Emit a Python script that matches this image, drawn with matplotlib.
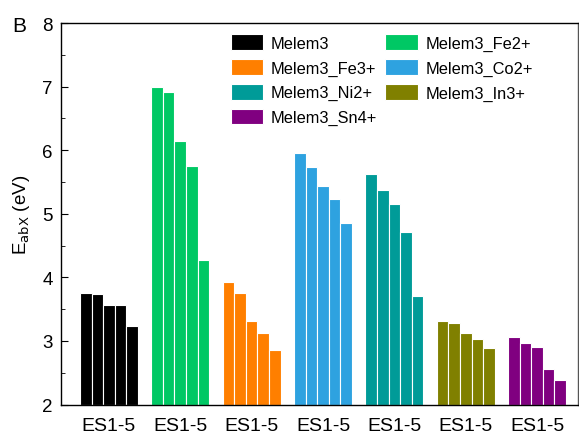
import matplotlib
matplotlib.use("Agg")
import matplotlib.pyplot as plt
import numpy as np

plt.rcParams['font.family'] = ['Liberation Sans', 'DejaVu Sans']

series_names = ["Melem3", "Melem3_Fe2+", "Melem3_Fe3+", "Melem3_Co2+",
                "Melem3_Ni2+", "Melem3_In3+", "Melem3_Sn4+"]
colors = ["#000000", "#00C864", "#FF7F00", "#2EA2E0",
          "#009B98", "#808000", "#800080"]
melem3 = [3.76, 3.74, 3.57, 3.57, 3.23]
fe2 = [7.00, 6.91, 6.15, 5.75, 4.27]
fe3 = [3.93, 3.76, 3.32, 3.12, 2.86]
co2 = [5.95, 5.74, 5.44, 5.23, 4.85]
ni2 = [5.63, 5.37, 5.15, 4.71, 3.71]
in3 = [3.32, 3.28, 3.13, 3.03, 2.89]
sn4 = [3.06, 2.97, 2.90, 2.56, 2.39]
values = [melem3, fe2, fe3, co2, ni2, in3, sn4]
xticklabels = ["ES1-5"] * 7

fig = plt.figure(figsize=(5.79, 4.39), dpi=100)
ax = fig.add_axes([0.1054, 0.0763, 0.8926, 0.869])

w = 0.81 / 5
handles = []
for i, (vals, c, name) in enumerate(zip(values, colors, series_names)):
    xs = i + (np.arange(5) - 2) * w
    b = ax.bar(xs, np.array(vals) - 2, width=w, bottom=2, color=c,
               edgecolor="white", linewidth=0.8, label=name)
    handles.append(b)

ax.set_xlim(-0.67, 6.57)
ax.set_ylim(2, 8)
ax.set_xticks(range(7))
ax.set_xticklabels(xticklabels, fontsize=14)
ax.tick_params(axis='x', length=0, pad=9)
ax.set_yticks(range(2, 9))
ax.set_yticks(np.arange(2.5, 8, 1), minor=True)
ax.tick_params(axis='y', which='major', direction='in', length=5, labelsize=13.5, pad=6)
ax.tick_params(axis='y', which='minor', direction='in', length=3)
for s in ax.spines.values():
    s.set_linewidth(1.0)
ax.spines['right'].set_color('#555555')
ax.set_ylabel(r"E$_{\mathrm{abX}}$ (eV)", fontsize=13.5, labelpad=7)

order = [0, 2, 4, 6, 1, 3, 5]
leg = ax.legend([handles[k] for k in order], [series_names[k] for k in order],
                ncol=2, loc='upper left', bbox_to_anchor=(0.328, 0.97),
                frameon=False, fontsize=11.8, handlelength=2.0, handleheight=1.1,
                handletextpad=0.45, labelspacing=0.5, columnspacing=0.5,
                borderpad=0, borderaxespad=0)

fig.text(0.021, 0.927, "B", fontsize=15)

fig.savefig("out.png", dpi=100)
